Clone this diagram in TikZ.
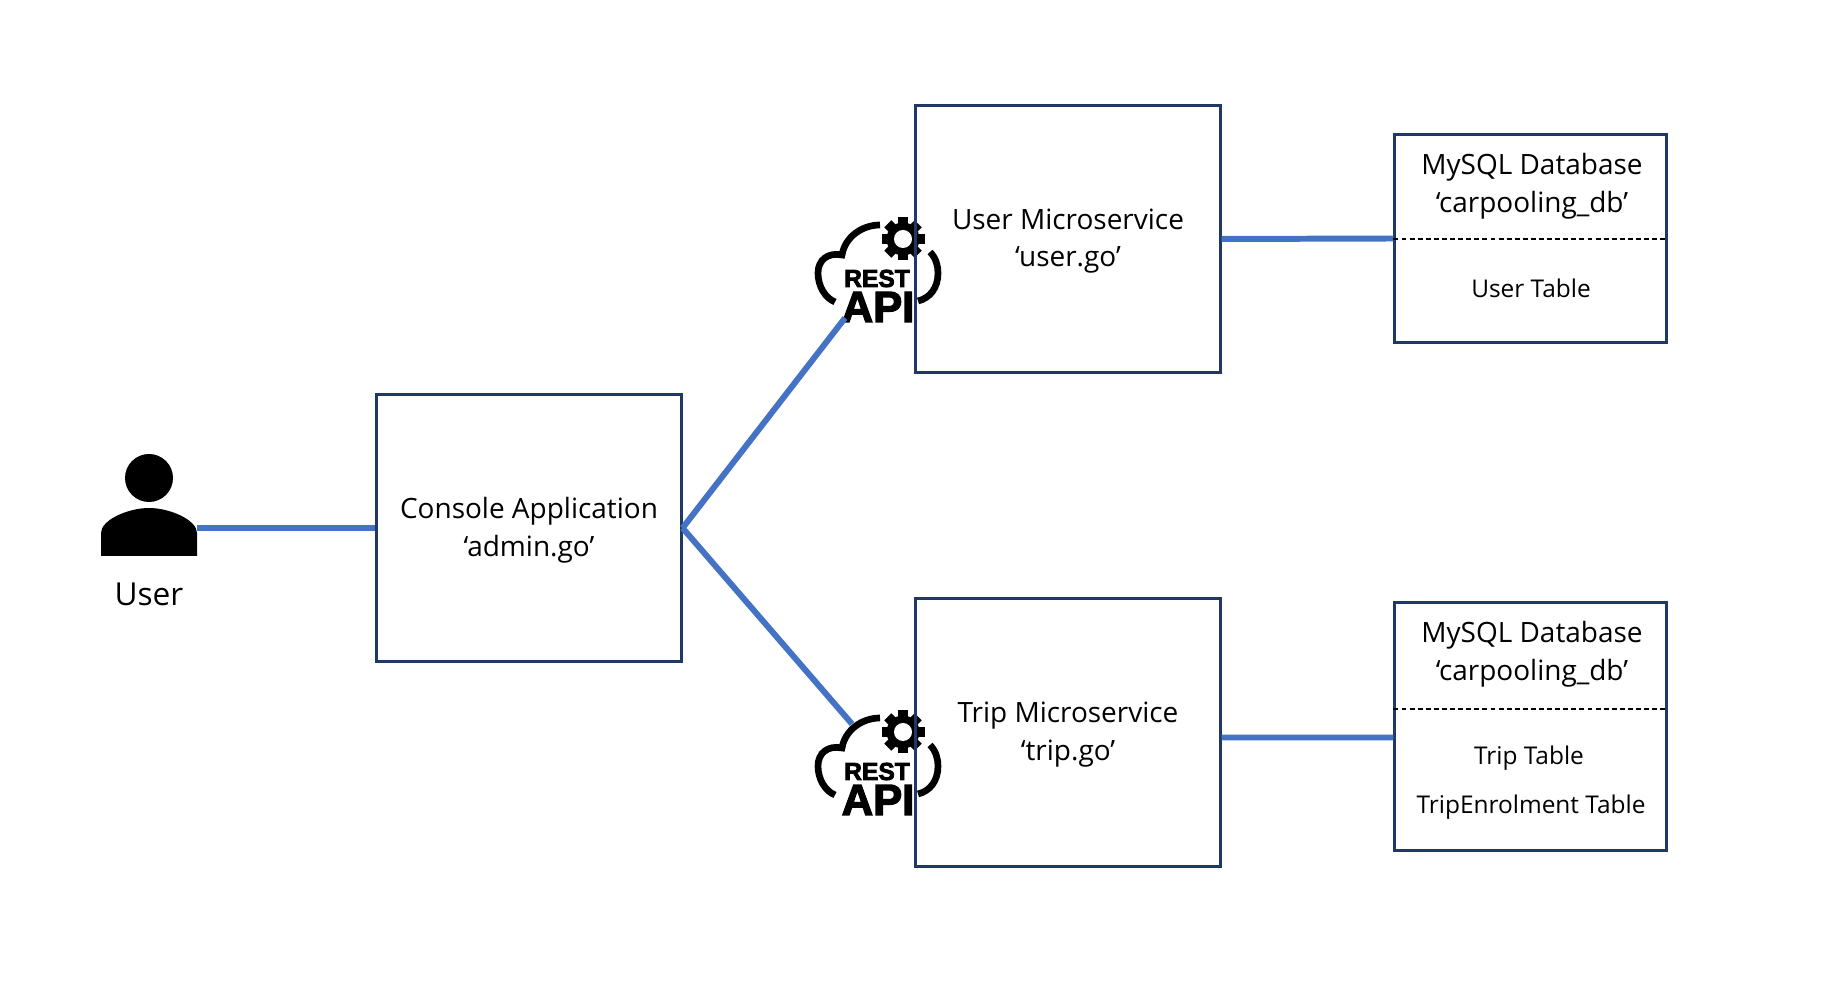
\documentclass[tikz,border=0pt]{standalone}
\usepackage{fontspec}
\setmainfont{Open Sans}
\newfontfamily\iconfont[BoldFeatures={FakeBold=3}]{Liberation Sans}
\usetikzlibrary{calc}

\definecolor{boxblue}{HTML}{1F3864}
\definecolor{linkblue}{HTML}{4472C4}

\newcommand{\bigtext}{\fontsize{7.95}{10.7}\selectfont}
\newcommand{\smalltext}{\fontsize{6.95}{8}\selectfont}

\tikzset{
  boxnode/.style={draw=boxblue, line width=0.85pt, fill=none, inner sep=0pt},
  labelnode/.style={align=center, inner sep=0pt, font=\bigtext},
  tablenode/.style={align=center, inner sep=0pt, font=\smalltext},
  link/.style={linkblue, line width=1.7pt},
  splitline/.style={black, line width=0.5pt, dash pattern=on 1.4pt off 0.9pt},
  restapi/.pic={
    \draw[black, line width=1.9pt]
      (45,112) .. controls (35,108) and (28,96) .. (28,83)
      .. controls (28,70) and (38,62) .. (52,65)
      .. controls (55,47) and (72,35) .. (90,35);
    \draw[black, line width=1.9pt]
      (140,62) .. controls (146,68) and (148,76) .. (148,83)
      .. controls (148,98) and (140,108) .. (128,111);
    %gear
    \fill[black] (113,49) circle (16.5);
    \foreach \ang in {0,45,...,315} {
      \fill[black, shift={(113,49)}, rotate=\ang] (-5,10) rectangle (5,-21.5);
    }
    \fill[white] (113,49) circle (9);
    \node[inner sep=0pt, font=\iconfont\bfseries\fontsize{7}{8}\selectfont] at (87,88.5) {REST};
    \node[inner sep=0pt, font=\iconfont\bfseries\fontsize{12.4}{14}\selectfont] at (88,117) {API};
  }
}

\begin{document}
\begin{tikzpicture}[x=0.01cm, y=-0.01cm]
\useasboundingbox (0,0) rectangle (1836,998);

%connection points
\coordinate (personright) at (197,528);
\coordinate (userapi) at (845,318);
\coordinate (tripapi) at (852,724);

%rest icons
\pic at (790,190) {restapi};
\pic at (790,683) {restapi};

%draw boxes
\node[boxnode, minimum width=3.04cm, minimum height=2.67cm] (console) at (529,528) {};
\node[boxnode, minimum width=3.04cm, minimum height=2.67cm] (userms) at (1068,239) {};
\node[boxnode, minimum width=3.04cm, minimum height=2.67cm] (tripms) at (1068,732.5) {};
\node[boxnode, minimum width=2.71cm, minimum height=2.07cm] (userdb) at (1530.5,238.5) {};
\node[boxnode, minimum width=2.71cm, minimum height=2.47cm] (tripdb) at (1530.5,726.5) {};

%draw person
\fill[black] (149,478) circle (24);
\fill[black] (101,556) -- (101,533) .. controls (101,520) and (128,508) .. (149,508)
  .. controls (170,508) and (197,520) .. (197,533) -- (197,556) -- cycle;

%draw links
\draw[link] (personright) -- (console.west);
\draw[link] (console.east) -- (userapi);
\draw[link] (console.east) -- (tripapi);
\draw[link] (userms.east) -- (userdb.west);
\draw[link] ([yshift=-0.05cm]tripms.east) -- ([yshift=-0.11cm]tripdb.west);

%split database boxes
\coordinate (userdbsplit) at (1530,239);
\coordinate (tripdbsplit) at (1530,709);
\draw[splitline] (userdb.west |- userdbsplit) -- (userdb.east |- userdbsplit);
\draw[splitline] (tripdb.west |- tripdbsplit) -- (tripdb.east |- tripdbsplit);

%labels
\node[labelnode, font=\fontsize{9}{11}\selectfont] (userlabel) at (149,594) {User};
\node[labelnode] (consolelabel) at (529,530) {Console Application\\‘admin.go’};
\node[labelnode] (usermslabel) at (1068,241) {User Microservice\\‘user.go’};
\node[labelnode] (tripmslabel) at (1068,734.5) {Trip Microservice\\‘trip.go’};
\node[labelnode] (userdblabel) at (1532,186) {MySQL Database\\‘carpooling\_db’};
\node[labelnode] (tripdblabel) at (1532,654) {MySQL Database\\‘carpooling\_db’};
\node[tablenode] (usertable) at (1531,288) {User Table};
\node[tablenode] (triptable) at (1529,758) {Trip Table};
\node[tablenode] (enroltable) at (1531,807) {TripEnrolment Table};

\end{tikzpicture}
\end{document}
